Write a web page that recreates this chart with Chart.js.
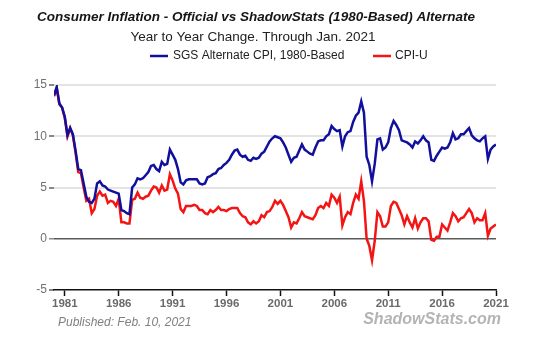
<!DOCTYPE html>
<html>
<head>
<meta charset="utf-8">
<script src="https://cdn.jsdelivr.net/npm/chart.js@4.4.0/dist/chart.umd.min.js"></script>
<style>
    html, body { margin: 0; padding: 0; background: #fff; }
</style>
</head>
<body>
<canvas id="inflChart" width="540" height="351"></canvas>
<script>
// Quarterly readings (Jan, Apr, Jul, Oct) from Jan. 1980 to Jan. 2021
const startYear = 1980;
const stepYears = 0.25;

const sgsAlternate = [
    14.0, 14.8, 13.2, 12.8,   // 1980
    11.9, 10.1, 10.8, 10.2,   // 1981
    8.6, 6.8, 6.7, 5.4,       // 1982
    4.1, 3.6, 3.5, 3.9,       // 1983
    5.4, 5.6, 5.2, 5.1,       // 1984
    4.8, 4.7, 4.6, 4.5,       // 1985
    4.4, 2.8, 2.7, 2.5,       // 1986
    2.4, 5.0, 5.3, 5.9,       // 1987
    5.8, 5.9, 6.2, 6.5,       // 1988
    7.1, 7.2, 6.8, 6.6,       // 1989
    7.5, 7.2, 7.3, 8.7,       // 1990
    8.2, 7.7, 6.8, 5.5,       // 1991
    5.3, 5.7, 5.8, 5.8,       // 1992
    5.8, 5.8, 5.4, 5.3,       // 1993
    5.4, 6.0, 6.1, 6.3,       // 1994
    6.4, 6.8, 6.9, 7.2,       // 1995
    7.4, 7.7, 8.2, 8.6,       // 1996
    8.7, 8.2, 8.0, 8.1,       // 1997
    7.7, 7.6, 7.9, 7.8,       // 1998
    7.9, 8.3, 8.5, 9.0,       // 1999
    9.5, 9.8, 10.0, 9.9,      // 2000
    9.8, 9.4, 8.9, 8.2,       // 2001
    7.5, 7.9, 8.0, 8.6,       // 2002
    9.2, 8.7, 8.5, 8.3,       // 2003
    8.2, 8.9, 9.5, 9.6,       // 2004
    9.6, 10.0, 10.2, 11.0,    // 2005
    10.7, 10.5, 10.6, 9.0,    // 2006
    10.0, 10.4, 10.5, 11.4,   // 2007
    12.0, 12.3, 13.4, 12.3,   // 2008
    8.0, 7.2, 5.6, 7.3,       // 2009
    9.7, 9.8, 8.7, 8.9,       // 2010
    9.4, 10.8, 11.5, 11.1,    // 2011
    10.6, 9.6, 9.5, 9.4,      // 2012
    9.2, 8.9, 9.5, 9.3,       // 2013
    9.6, 10.0, 9.6, 9.4,      // 2014
    7.7, 7.6, 8.1, 8.5,       // 2015
    8.9, 8.8, 8.9, 9.4,       // 2016
    10.3, 9.7, 9.8, 10.2,     // 2017
    10.2, 10.5, 10.8, 10.1,   // 2018
    9.8, 9.6, 9.5, 9.8,       // 2019
    10.0, 7.8, 8.7, 9.0,      // 2020
    9.2                       // 2021
];

const cpiU = [
    13.9, 14.7, 13.1, 12.8,   // 1980
    11.8, 10.0, 10.8, 10.1,   // 1981
    8.4, 6.5, 6.4, 5.0,       // 1982
    3.7, 3.9, 2.5, 2.9,       // 1983
    4.2, 4.6, 4.2, 4.3,       // 1984
    3.5, 3.7, 3.6, 3.2,       // 1985
    3.9, 1.6, 1.6, 1.5,       // 1986
    1.5, 3.8, 3.9, 4.5,       // 1987
    4.0, 3.9, 4.1, 4.2,       // 1988
    4.7, 5.1, 5.0, 4.5,       // 1989
    5.2, 4.7, 4.8, 6.3,       // 1990
    5.7, 4.9, 4.4, 2.9,       // 1991
    2.6, 3.2, 3.2, 3.2,       // 1992
    3.3, 3.2, 2.8, 2.8,       // 1993
    2.5, 2.4, 2.8, 2.6,       // 1994
    2.8, 3.1, 2.8, 2.8,       // 1995
    2.7, 2.9, 3.0, 3.0,       // 1996
    3.0, 2.5, 2.2, 2.1,       // 1997
    1.6, 1.4, 1.7, 1.5,       // 1998
    1.7, 2.3, 2.1, 2.6,       // 1999
    2.7, 3.1, 3.7, 3.4,       // 2000
    3.7, 3.3, 2.7, 2.1,       // 2001
    1.1, 1.6, 1.5, 2.0,       // 2002
    2.6, 2.2, 2.1, 2.0,       // 2003
    1.9, 2.3, 3.0, 3.2,       // 2004
    3.0, 3.5, 3.2, 4.3,       // 2005
    4.0, 3.5, 4.1, 1.3,       // 2006
    2.1, 2.6, 2.4, 3.5,       // 2007
    4.3, 3.9, 5.6, 3.7,       // 2008
    0.0, -0.7, -2.1, -0.2,    // 2009
    2.6, 2.2, 1.2, 1.2,       // 2010
    1.6, 3.2, 3.6, 3.5,       // 2011
    2.9, 2.3, 1.4, 2.2,       // 2012
    1.6, 1.1, 2.0, 1.0,       // 2013
    1.6, 2.0, 2.0, 1.7,       // 2014
    -0.1, -0.2, 0.2, 0.2,     // 2015
    1.4, 1.1, 0.8, 1.6,       // 2016
    2.5, 2.2, 1.7, 2.0,       // 2017
    2.1, 2.5, 2.9, 2.5,       // 2018
    1.6, 2.0, 1.8, 1.8,       // 2019
    2.5, 0.3, 1.0, 1.2,       // 2020
    1.4                       // 2021
];

const xTickYears = [1981, 1986, 1991, 1996, 2001, 2006, 2011, 2016, 2021];
const yTickValues = [-5, 0, 5, 10, 15];

const titleText = "Consumer Inflation - Official vs ShadowStats (1980-Based) Alternate";
const subtitleText = "Year to Year Change. Through Jan. 2021";
const sgsLabel = "SGS Alternate CPI, 1980-Based";
const cpiLabel = "CPI-U";
const publishedText = "Published: Feb. 10, 2021";
const brandText = "ShadowStats.com";

const BLUE = "#10109c";
const RED = "#f41414";
const FONT = "'Liberation Sans', Arial, sans-serif";

const toPoints = arr => arr.map((v, i) => ({x: startYear + i * stepYears, y: v}));

// titres, legende et textes du bas
const headerText = {
    id: "headerText",
    afterDraw(chart) {
        const ctx = chart.ctx;
        ctx.save();
        ctx.textBaseline = "middle";
        ctx.textAlign = "center";

        ctx.fillStyle = "#151515";
        ctx.font = "italic bold 13.5px " + FONT;
        ctx.fillText(titleText, 256, 17, 442);

        ctx.fillStyle = "#222";
        ctx.font = "13.5px " + FONT;
        ctx.fillText(subtitleText, 253, 37, 252);

        // legende
        ctx.lineWidth = 2.5;
        ctx.strokeStyle = BLUE;
        ctx.beginPath(); ctx.moveTo(150, 56); ctx.lineTo(168, 56); ctx.stroke();
        ctx.strokeStyle = RED;
        ctx.beginPath(); ctx.moveTo(373, 56); ctx.lineTo(391, 56); ctx.stroke();
        ctx.textAlign = "left";
        ctx.fillStyle = "#222";
        ctx.font = "12px " + FONT;
        ctx.fillText(sgsLabel, 173, 56);
        ctx.fillText(cpiLabel, 395, 56);

        ctx.fillStyle = "#808080";
        ctx.font = "italic 12px " + FONT;
        ctx.fillText(publishedText, 58, 323);

        ctx.textAlign = "right";
        ctx.fillStyle = "#b4b4b4";
        ctx.font = "italic bold 16px " + FONT;
        ctx.fillText(brandText, 501, 320);
        ctx.restore();
    }
};

const ctx = document.getElementById("inflChart").getContext("2d");
new Chart(ctx, {
    type: "line",
    data: {
        datasets: [
            {
                label: sgsLabel,
                data: toPoints(sgsAlternate),
                borderColor: BLUE,
                borderWidth: 2.5,
                pointRadius: 0,
                tension: 0
            },
            {
                label: cpiLabel,
                data: toPoints(cpiU),
                borderColor: RED,
                borderWidth: 2.5,
                pointRadius: 0,
                tension: 0
            }
        ]
    },
    options: {
        responsive: false,
        animation: false,
        layout: { padding: { top: 85, right: 44, bottom: 41, left: 0 } },
        plugins: {
            legend: { display: false },
            tooltip: { enabled: false },
            title: { display: false }
        },
        scales: {
            x: {
                type: "linear",
                min: 1980,
                max: 2021,
                afterBuildTicks: s => { s.ticks = xTickYears.map(v => ({value: v})); },
                afterFit: s => { s.height = 20; },
                ticks: {
                    callback: v => String(v),
                    color: "#6a6a6a",
                    font: { family: FONT, size: 11.5, weight: "bold" },
                    padding: 1,
                    maxRotation: 0,
                    autoSkip: false
                },
                grid: { drawOnChartArea: false, tickLength: 6, tickColor: "#111", tickWidth: 1.5 },
                border: { color: "#111", width: 1.5 }
            },
            y: {
                min: -5,
                max: 15,
                afterBuildTicks: s => { s.ticks = yTickValues.map(v => ({value: v})); },
                afterFit: s => { s.width = 54; },
                ticks: {
                    color: "#707070",
                    font: { family: FONT, size: 12 },
                    padding: 2
                },
                grid: {
                    color: c => c.tick.value === 0 ? "#5a5a5a" : (c.tick.value === -5 ? "rgba(0,0,0,0)" : "#e4e4e4"),
                    lineWidth: c => c.tick.value === 0 ? 1.5 : 2,
                    tickColor: "#888",
                    tickLength: 5
                },
                border: { display: false }
            }
        }
    },
    plugins: [headerText]
});
</script>
</body>
</html>
